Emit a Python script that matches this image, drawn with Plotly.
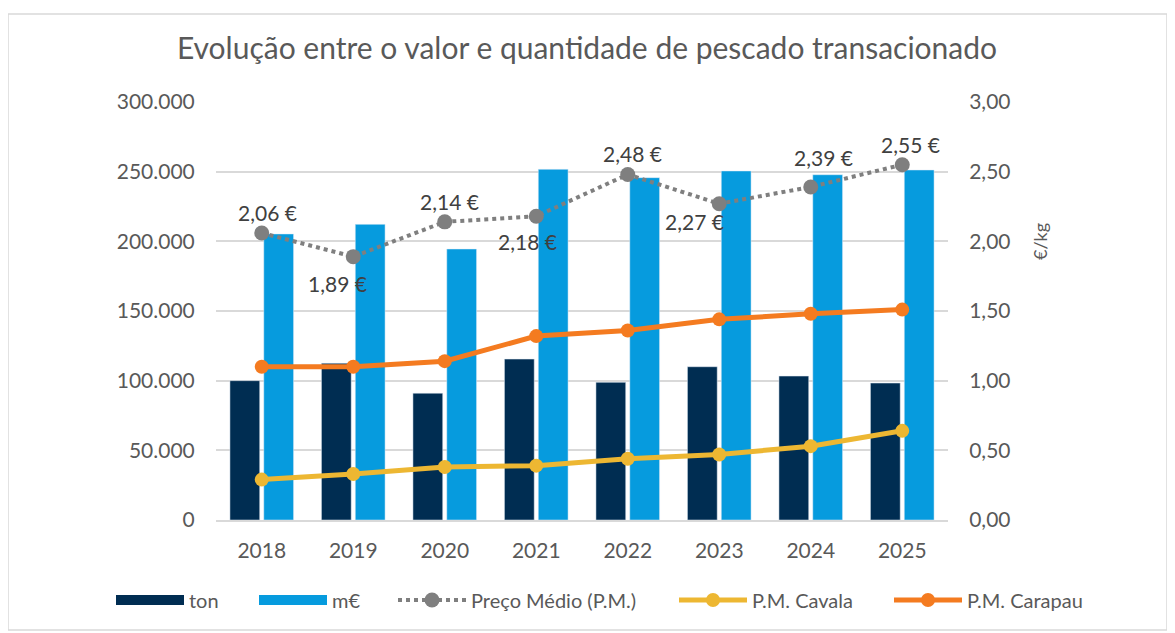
import plotly.graph_objects as go

# dados
anos = ["2018", "2019", "2020", "2021", "2022", "2023", "2024", "2025"]
ton = [100000, 112500, 91000, 115500, 98800, 110000, 103300, 98300]
mil_eur = [205300, 212200, 194500, 251700, 245700, 250500, 247800, 251200]
preco_medio = [2.06, 1.89, 2.14, 2.18, 2.48, 2.27, 2.39, 2.55]
pm_cavala = [0.29, 0.33, 0.38, 0.39, 0.44, 0.47, 0.53, 0.64]
pm_carapau = [1.10, 1.10, 1.14, 1.32, 1.36, 1.44, 1.48, 1.51]

# deslocamento (px) de cada rótulo do preço médio em relação ao ponto
desloc_rotulos = [(6, 20), (-16, -27), (5, 20), (-9, -25),
                  (5, 21), (-25, -18), (13, 29), (8, 20)]

FONTE = "Lato"
CINZA = "#595959"
AZUL_ESC, AZUL = "#002d52", "#069bde"

OFF = 8  # margem do body da página
L, R, T, B = 216 - OFF, 227 + OFF, 102 - OFF, 113 + OFF
W, H = 1175, 633
pw, ph = W - L - R, H - T - B

fig = go.Figure()
fig.add_trace(go.Bar(x=anos, y=ton, name="ton", marker_color=AZUL_ESC, showlegend=False))
fig.add_trace(go.Bar(x=anos, y=mil_eur, name="m€", marker_color=AZUL, showlegend=False))
# entradas de legenda em forma de retângulo largo (como no Excel), sem marcas
vazio = [None] * len(anos)
fig.add_trace(go.Scatter(x=anos, y=vazio, name="ton", mode="lines",
                         line=dict(color=AZUL_ESC, width=14), legend="legend"))
fig.add_trace(go.Scatter(x=anos, y=vazio, name="m€", mode="lines",
                         line=dict(color=AZUL, width=14), legend="legend2"))
fig.add_trace(go.Scatter(
    x=anos, y=preco_medio, name="Preço Médio (P.M.)", yaxis="y2",
    mode="lines+markers", legend="legend3",
    line=dict(color="#7f7f7f", width=4, dash="dot"),
    marker=dict(size=15, color="#7f7f7f"),
))
fig.add_trace(go.Scatter(
    x=anos, y=pm_cavala, name="P.M. Cavala", yaxis="y2", legend="legend4",
    mode="lines+markers", line=dict(color="#edb732", width=5),
    marker=dict(size=14, color="#edb732"),
))
fig.add_trace(go.Scatter(
    x=anos, y=pm_carapau, name="P.M. Carapau", yaxis="y2", legend="legend5",
    mode="lines+markers", line=dict(color="#f47b20", width=5),
    marker=dict(size=14, color="#f47b20"),
))

# rótulos do preço médio (índice da categoria no eixo x)
for i, (v, (dx, dy)) in enumerate(zip(preco_medio, desloc_rotulos)):
    fig.add_annotation(x=i, y=v, xref="x", yref="y2",
                       text=f"{v:.2f} €".replace(".", ","),
                       showarrow=False, xshift=dx, yshift=dy,
                       font=dict(size=21, color="#404040", family=FONTE))

legenda_base = dict(orientation="h", y=-(600 - 520) / ph, yanchor="middle",
                    xanchor="left", font=dict(size=20, color=CINZA),
                    itemwidth=68, bgcolor="rgba(0,0,0,0)")
inicio_simbolos = [115, 258, 397, 678, 893]
legendas = {}
for i, xs in enumerate(inicio_simbolos):
    chave = "legend" if i == 0 else f"legend{i + 1}"
    legendas[chave] = dict(legenda_base, x=(xs - OFF - 4 - L) / pw)

fig.update_layout(
    width=W, height=H,
    margin=dict(l=L, r=R, t=T, b=B, autoexpand=False),
    paper_bgcolor="white", plot_bgcolor="white",
    separators=",.",
    font=dict(family=FONTE, color=CINZA, size=21),
    title=dict(text="Evolução entre o valor e quantidade de pescado transacionado",
               x=(587 - OFF) / W, xanchor="center", y=1 - (48 - OFF) / H, yanchor="middle",
               font=dict(size=30, color=CINZA, family=FONTE)),
    barmode="group", bargap=0.26, bargroupgap=0.12,
    xaxis=dict(type="category", range=[-0.5, len(anos) - 0.5],
               showgrid=False, showline=True,
               linecolor="#d9d9d9", linewidth=1.5,
               ticks="outside", ticklen=11, tickcolor="white",
               tickfont=dict(size=21, color=CINZA)),
    yaxis=dict(range=[0, 300000], dtick=50000, tickformat=",.0f",
               gridcolor="#d9d9d9", gridwidth=1.5, zeroline=False,
               ticks="outside", ticklen=16, tickcolor="white"),
    yaxis2=dict(range=[0, 3], dtick=0.5, tickformat=".2f", overlaying="y",
                side="right", showgrid=False, zeroline=False,
                ticks="outside", ticklen=16, tickcolor="white"),
    showlegend=True,
    **legendas,
)

fig.add_annotation(text="€/kg", xref="paper", yref="paper",
                   x=(1053 - OFF - L) / pw, y=(520 - 242) / ph, textangle=-90,
                   showarrow=False, font=dict(size=18, color=CINZA))

# moldura do gráfico
fig.add_shape(type="rect", xref="paper", yref="paper", layer="below",
              x0=(8 - OFF - L) / pw, x1=(1167 - OFF - L) / pw,
              y0=(520 - 630) / ph, y1=(520 - 14) / ph,
              line=dict(color="#d9d9d9", width=1.5), fillcolor="rgba(0,0,0,0)")

fig.write_html("out.html")
